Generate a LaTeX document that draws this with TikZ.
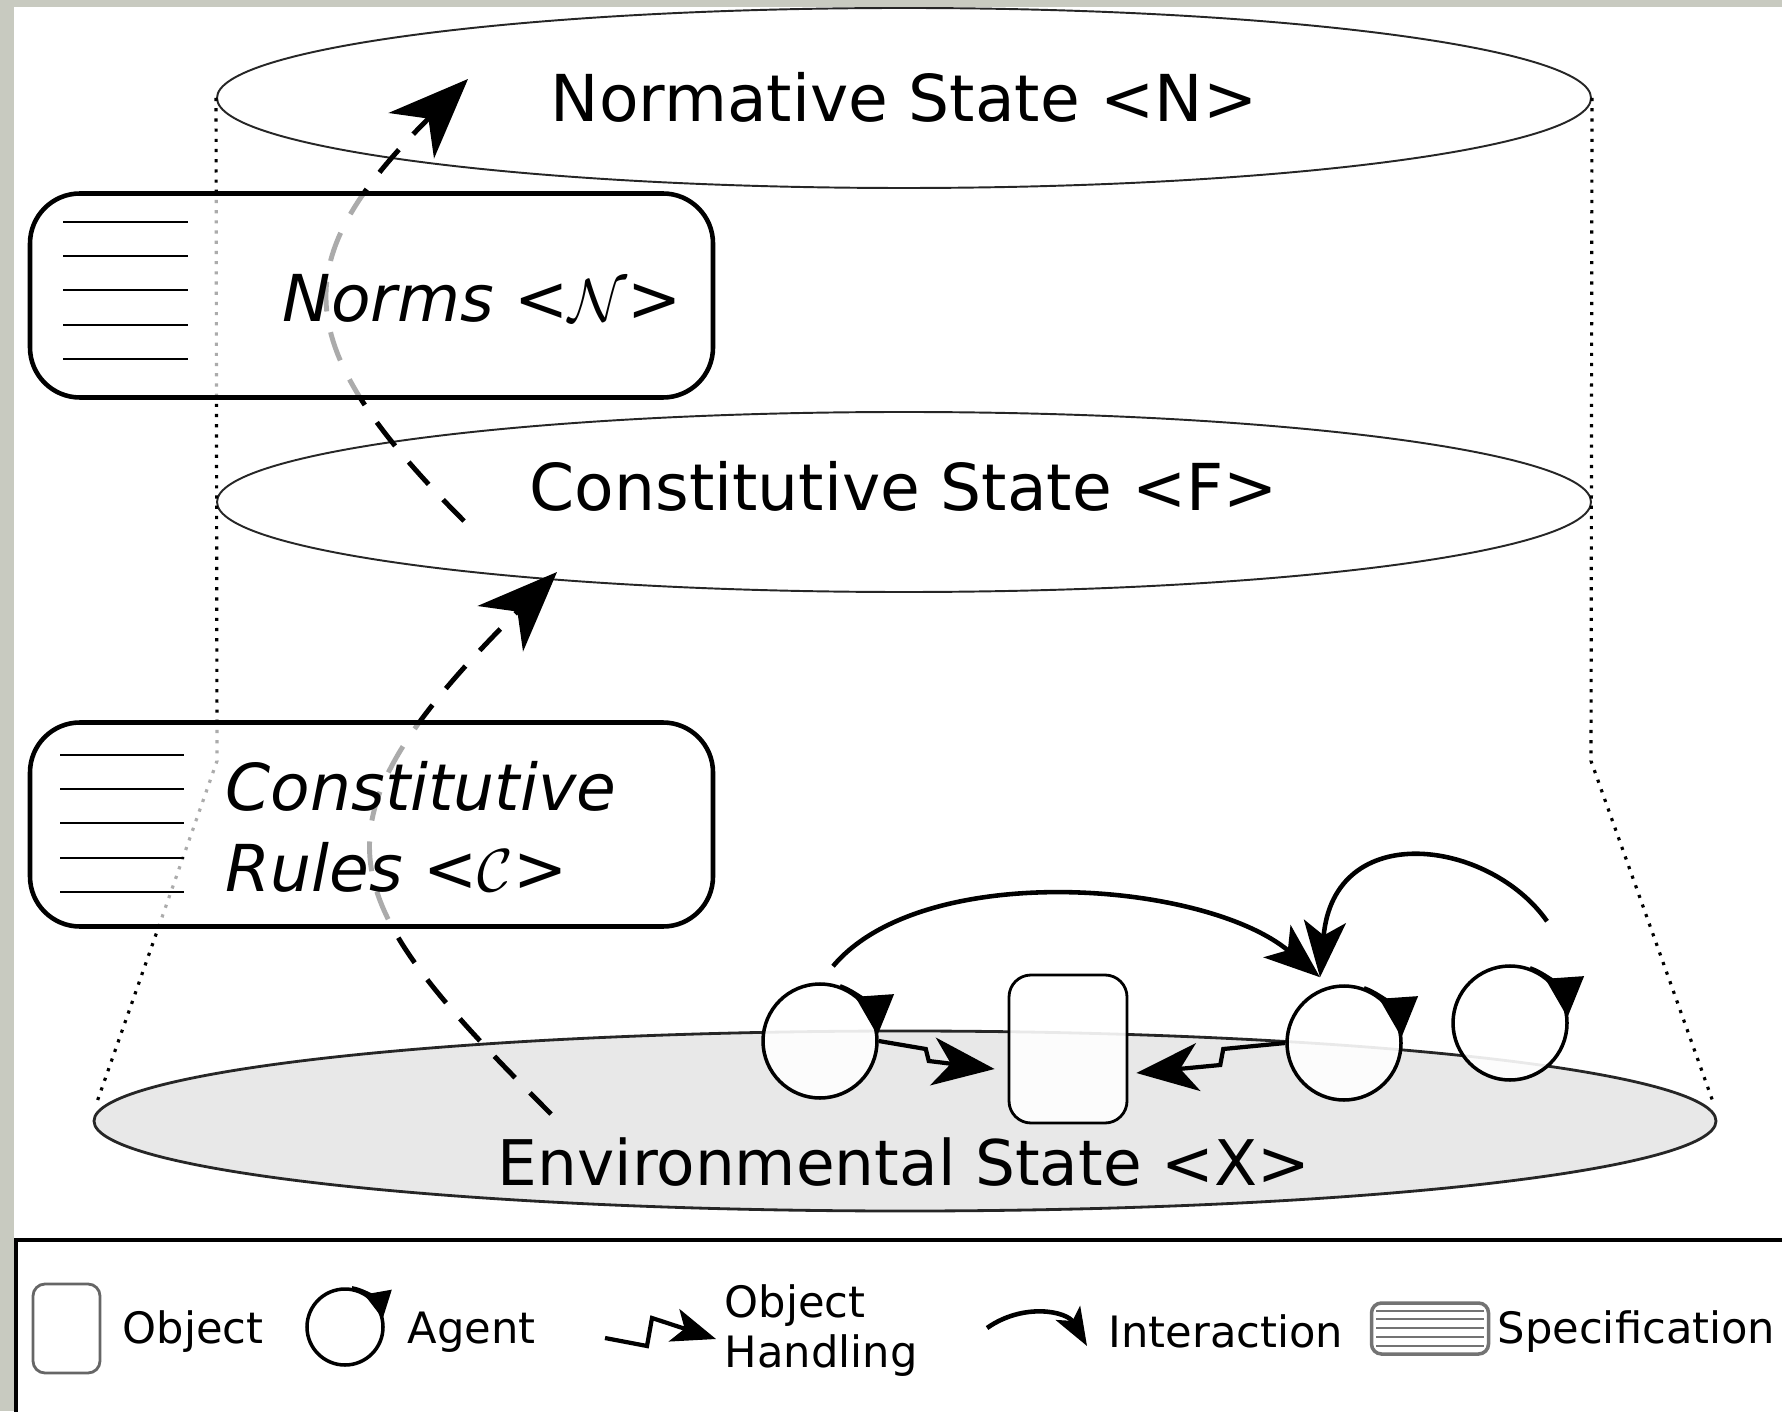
\documentclass[tikz,border=0pt]{standalone}
\usepackage{fontspec}
\setmainfont{DejaVu Sans}
\usepackage{xcolor}
\usetikzlibrary{arrows.meta, shapes.geometric, calc, positioning}

\definecolor{framegray}{RGB}{200,202,192}

\begin{document}
\begin{tikzpicture}[
    statelayer/.style={ellipse, draw=black!85, line width=0.55pt, minimum width=13.74cm, minimum height=1.8cm, inner sep=0pt},
    statetext/.style={anchor=base, inner sep=0pt, font=\fontsize{18.4}{22}\selectfont},
    specbox/.style={draw, line width=1.3pt, rounded corners=0.5cm, fill=white, fill opacity=0.67, minimum width=6.83cm, minimum height=2.04cm},
    specline/.style={line width=0.6pt},
    boxtext/.style={inner sep=0pt, font=\fontsize{18.4}{23}\selectfont\itshape},
    guideline/.style={dotted, line width=0.9pt},
    flowarrow/.style={line width=1.4pt, dash pattern=on 8.5pt off 6pt, -{Stealth[length=0.8cm, width=0.64cm, inset=0.24cm]}},
    agent/.style={circle, draw, line width=1pt, fill=white, fill opacity=0.9, minimum size=1.14cm, inner sep=0pt},
    agenttip/.style={line width=1pt, -{Triangle[length=0.4cm, width=0.38cm]}},
    thing/.style={draw, line width=0.8pt, rounded corners=0.22cm, fill=white, fill opacity=0.9, minimum width=1.18cm, minimum height=1.48cm},
    handling/.style={line width=1.2pt, -{Stealth[length=0.62cm, width=0.48cm, inset=0.18cm]}},
    interaction/.style={line width=1.3pt, -{Stealth[length=0.56cm, width=0.42cm, inset=0.14cm]}},
    legendtext/.style={anchor=base west, inner sep=0pt, font=\fontsize{12.3}{14.2}\selectfont}
  ]
  \useasboundingbox (0,0) rectangle (17.82,14.11);
  \fill[framegray] (0,0) rectangle (17.82,14.11);
  \fill[white] (0.14,0) rectangle (17.82,14.04);

  % legend frame
  \draw[line width=0.9pt] (0.16,-0.2) -- (0.16,1.71) -- (18,1.71);

  % the three layers
  \coordinate (lfoot) at (0.97,3.09);
  \coordinate (rfoot) at (17.13,3.09);
  \node[statelayer] (nst) at (9.04,13.13) {};
  \node[statelayer] (cst) at (9.04,9.09) {};
  \draw[guideline] (nst.west) -- (2.17,6.50) -- (lfoot);
  \draw[guideline] (nst.east) -- (15.91,6.50) -- (rfoot);
  \node[statelayer, fill=gray!18, line width=0.8pt, minimum width=16.22cm] (env) at (9.05,2.90) {};

  \node[statetext] (nsttext) at (9.04,12.89) {Normative State <N>};
  \node[statetext] (csttext) at (9.04,9.00) {Constitutive State <F>};
  \node[statetext, font=\fontsize{17.9}{21}\selectfont] (envtext) at (9.04,2.26) {Environmental State <X>};

  % counts-as steps
  \coordinate (fromenv) at (5.51,2.97);
  \coordinate (tocst) at (5.57,8.39);
  \coordinate (fromcst) at (4.64,8.90);
  \coordinate (tonst) at (4.68,13.32);
  \draw[flowarrow] (fromenv) .. controls (3.31,5.17) and (3.0,5.82) .. (tocst);
  \draw[flowarrow] (fromcst) .. controls (2.84,10.70) and (2.88,11.52) .. (tonst);

  % specifications
  \node[specbox] (norms) at (3.715,11.155) {};
  \node[specbox] (crules) at (3.715,5.865) {};
  \foreach \y in {11.89,11.55,11.21,10.86,10.52}
    \draw[specline] (0.63,\y) -- (1.88,\y);
  \foreach \y in {6.56,6.22,5.88,5.53,5.19}
    \draw[specline] (0.60,\y) -- (1.84,\y);
  \node[boxtext, anchor=base west] (normstext) at (2.82,10.89) {Norms <$\mathcal{N}$>};
  \node[boxtext, anchor=west, align=left] (crulestext) at (2.25,5.845) {Constitutive\\Rules <$\mathcal{C}$>};

  % agents and the object
  \node[agent] (a1) at (8.20,3.70) {};
  \node[thing] (obj) at (10.68,3.62) {};
  \node[agent] (a2) at (13.44,3.68) {};
  \node[agent] (a3) at (15.10,3.88) {};
  \foreach \a in {a1,a2,a3}
    \draw[agenttip] (\a.70) arc[start angle=70, end angle=4, radius=0.57cm];

  \draw[handling] (a1.east) -- ++(0.47,-0.08) -- ++(0.03,-0.12) -- ($(obj.west)+(-0.13,-0.2)$);
  \draw[handling] (a2.west) -- ++(-0.62,-0.06) -- ++(-0.03,-0.16) -- ($(obj.east)+(0.08,-0.24)$);

  \coordinate (hit) at ($(a2.north)+(-0.24,0.07)$);
  \draw[interaction] ([shift={(0.13,0.16)}]a1.north) .. controls +(50:1.4) and +(140:1.5) .. (hit);
  \draw[interaction] ([shift={(0.37,0.43)}]a3.north) .. controls +(125:1.0) and +(85:1.6) .. (hit);

  % legend
  \node[thing, draw=black!60, minimum width=0.67cm, minimum height=0.89cm, rounded corners=0.12cm] (lobj) at (0.665,0.825) {};
  \node[legendtext] (lobjtext) at (1.22,0.68) {Object};

  \node[agent, minimum size=0.76cm] (lag) at (3.45,0.84) {};
  \draw[agenttip, -{Triangle[length=0.27cm, width=0.27cm]}] (lag.80) arc[start angle=80, end angle=10, radius=0.38cm];
  \node[legendtext] (lagtext) at (4.07,0.68) {Agent};

  \coordinate (lhs) at (6.05,0.73);
  \coordinate (lhe) at (7.16,0.72);
  \draw[handling, -{Stealth[length=0.44cm, width=0.34cm, inset=0.11cm]}] (lhs) -- ++(0.42,-0.08) -- ++(0.05,0.28) -- (lhe);
  \node[legendtext, anchor=west, align=left] (lhtext) at (7.24,0.805) {Object\\Handling};

  \coordinate (lis) at (9.87,0.83);
  \coordinate (lie) at (10.87,0.65);
  \draw[interaction, -{Stealth[length=0.38cm, width=0.28cm, inset=0.09cm]}] (lis) .. controls +(35:0.45) and +(120:0.4) .. (lie);
  \node[legendtext] (litext) at (11.08,0.64) {Interaction};

  \node[draw=black!55, line width=1pt, rounded corners=0.1cm, minimum width=1.17cm, minimum height=0.51cm] (lspec) at (14.30,0.825) {};
  \foreach \y in {1.00,0.92,0.83,0.74,0.65}
    \draw[black!55, line width=0.4pt] (13.76,\y) -- (14.84,\y);
  \node[legendtext] (lstext) at (14.97,0.68) {Specification};
\end{tikzpicture}
\end{document}
